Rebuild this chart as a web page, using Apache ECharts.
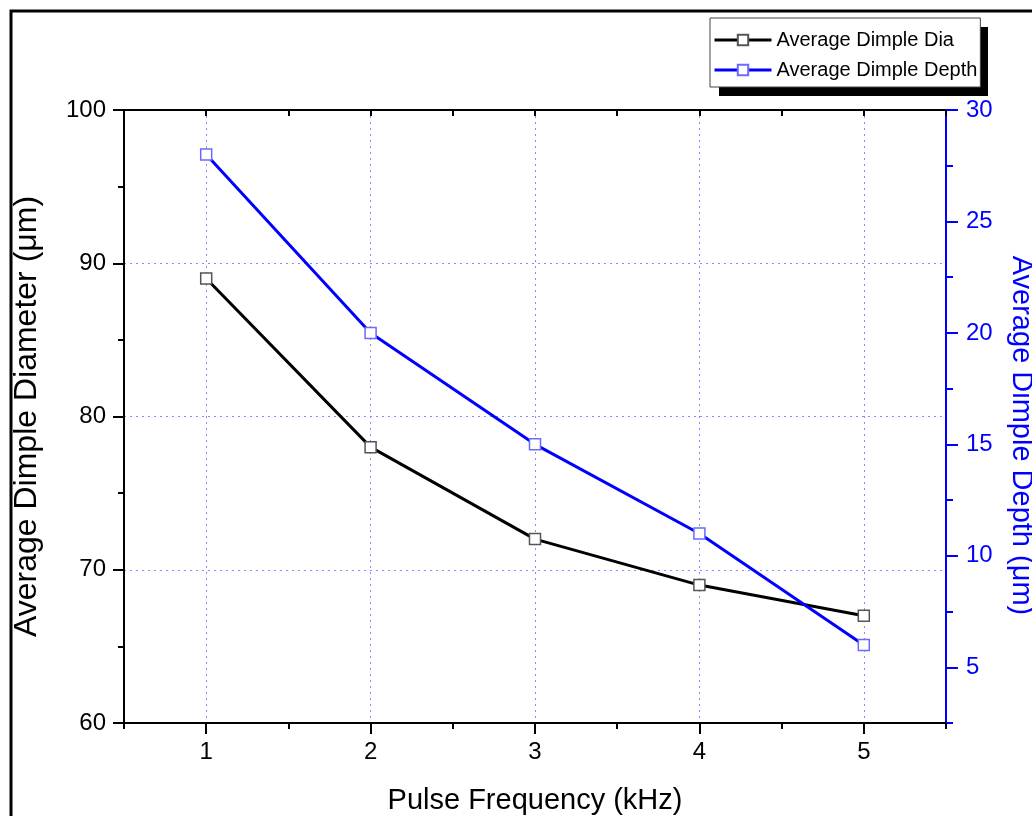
<!DOCTYPE html>
<html>
<head>
<meta charset="utf-8">
<script src="https://cdn.jsdelivr.net/npm/echarts@6/dist/echarts.min.js"></script>
<style>html,body{margin:0;padding:0;background:#fff;}#c{width:1032px;height:816px;}</style>
</head>
<body>
<div id="c"></div>
<script>
// ---- data ----
const frequency = [1, 2, 3, 4, 5];
const diameter = [89, 78, 72, 69, 67];
const depth = [28, 20, 15, 11, 6];
const xMajorTicks = [1, 2, 3, 4, 5];
const xMinorTicks = [0.5, 1.5, 2.5, 3.5, 4.5, 5.5];
const rightTicks = [5, 10, 15, 20, 25, 30];
const seriesNames = ['Average Dimple Dia', 'Average Dimple Depth'];
const xTitle = 'Pulse Frequency (kHz)';
const yLeftTitle = 'Average Dimple Diameter (μm)';
const yRightTitle = 'Average Dimple Depth (μm)';

const FONT = 'Liberation Sans, Arial, sans-serif';
const BLUE = '#0000ff';
const gridLine = { show: true, lineStyle: { color: '#8a8aff', width: 1, type: [2, 4] } };

const chart = echarts.init(document.getElementById('c'), null, { renderer: 'canvas' });
chart.setOption({
  animation: false,
  backgroundColor: '#fff',
  textStyle: { fontFamily: FONT },
  graphic: [{
    type: 'rect', silent: true, z: 100,
    shape: { x: 11, y: 11, width: 1040, height: 830 },
    style: { fill: 'none', stroke: '#000', lineWidth: 3 }
  }, {
    type: 'rect', silent: true, z: 0,
    shape: { x: 719, y: 27, width: 269, height: 69 },
    style: { fill: '#000' }
  }],
  grid: { left: 124, right: 86, top: 110, bottom: 93, containLabel: false, outerBoundsMode: 'none' },
  legend: {
    orient: 'vertical', left: 710, top: 18, z: 10,
    padding: [12, 3, 7, 3], itemGap: 10,
    itemWidth: 57, itemHeight: 13,
    backgroundColor: '#fff', borderColor: '#444', borderWidth: 1,
    lineStyle: { width: 3 },
    textStyle: { fontSize: 20, color: '#000', fontFamily: FONT, lineHeight: 20 },
    data: seriesNames
  },
  xAxis: [{
    type: 'value', position: 'bottom', min: 0.5, max: 5.5, interval: 0.5,
    name: xTitle, nameLocation: 'middle', nameGap: 63, nameMoveOverlap: false,
    nameTextStyle: { fontSize: 29, color: '#000', fontFamily: FONT },
    axisLine: { show: true, onZero: false, lineStyle: { color: '#000', width: 2 } },
    axisTick: { show: true, customValues: xMajorTicks, length: 11, lineStyle: { color: '#000', width: 2 } },
    axisLabel: { show: true, customValues: xMajorTicks, fontSize: 24, color: '#000', margin: 17, fontFamily: FONT },
    splitLine: gridLine
  }, {
    type: 'value', position: 'bottom', min: 0.5, max: 5.5, interval: 0.5,
    axisLine: { show: false },
    axisTick: { show: true, customValues: xMinorTicks, length: 6, lineStyle: { color: '#000', width: 2 } },
    axisLabel: { show: false }, splitLine: { show: false }
  }, {
    type: 'value', position: 'top', min: 0.5, max: 5.5, interval: 0.5,
    axisLine: { show: true, onZero: false, lineStyle: { color: '#000', width: 2 } },
    axisTick: { show: true, inside: true, length: 6, lineStyle: { color: '#000', width: 2 } },
    axisLabel: { show: false }, splitLine: { show: false }
  }],
  yAxis: [{
    type: 'value', position: 'left', min: 60, max: 100, interval: 10,
    name: yLeftTitle, nameLocation: 'middle', nameGap: 81, nameMoveOverlap: false,
    nameTextStyle: { fontSize: 32, color: '#000', fontFamily: FONT },
    axisLine: { show: true, onZero: false, lineStyle: { color: '#000', width: 2 } },
    axisTick: { show: true, length: 11, lineStyle: { color: '#000', width: 2 } },
    minorTick: { show: true, splitNumber: 2, length: 6, lineStyle: { color: '#000', width: 2 } },
    axisLabel: { fontSize: 24, color: '#000', margin: 18, fontFamily: FONT },
    splitLine: gridLine
  }, {
    type: 'value', position: 'right', min: 2.5, max: 30, interval: 2.5,
    name: yRightTitle, nameLocation: 'middle', nameGap: 60, nameRotate: -90, nameMoveOverlap: false,
    nameTextStyle: { fontSize: 29, color: BLUE, fontFamily: FONT, padding: [0, 0, 0, 38] },
    axisLine: { show: true, onZero: false, lineStyle: { color: BLUE, width: 2 } },
    axisTick: { show: true, customValues: rightTicks, length: 12, lineStyle: { color: BLUE, width: 2 } },
    axisLabel: { customValues: rightTicks, fontSize: 24, color: BLUE, margin: 20, fontFamily: FONT },
    splitLine: { show: false }
  }, {
    type: 'value', position: 'right', min: 2.5, max: 30, interval: 2.5,
    axisLine: { show: false },
    axisTick: { show: true, length: 7, lineStyle: { color: BLUE, width: 2 } },
    axisLabel: { show: false }, splitLine: { show: false }
  }],
  series: [{
    name: seriesNames[0], type: 'line', xAxisIndex: 0, yAxisIndex: 0,
    data: frequency.map((f, i) => [f, diameter[i]]),
    symbol: 'rect', symbolSize: 11,
    lineStyle: { color: '#000', width: 3 },
    itemStyle: { color: '#fff', borderColor: '#555', borderWidth: 1.5 },
    z: 3
  }, {
    name: seriesNames[1], type: 'line', xAxisIndex: 0, yAxisIndex: 1,
    data: frequency.map((f, i) => [f, depth[i]]),
    symbol: 'rect', symbolSize: 11,
    lineStyle: { color: BLUE, width: 3 },
    itemStyle: { color: '#fff', borderColor: '#6a6aff', borderWidth: 1.5 },
    z: 4
  }]
});
</script>
</body>
</html>
